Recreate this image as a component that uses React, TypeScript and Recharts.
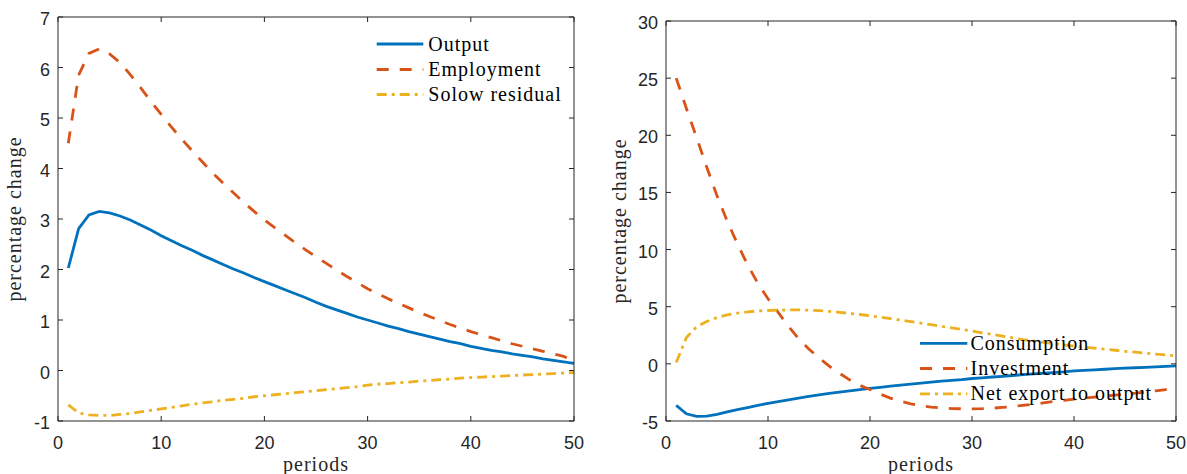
import { LineChart, Line, XAxis, YAxis, Legend } from 'recharts';

// periods 1..50
const periods = Array.from({ length: 50 }, (_, i) => i + 1);

// left panel
const output = [
  2.03, 2.81, 3.08, 3.15, 3.12, 3.06, 2.98, 2.88, 2.78, 2.67,
  2.57, 2.47, 2.38, 2.28, 2.19, 2.10, 2.01, 1.93, 1.84, 1.76,
  1.68, 1.60, 1.52, 1.44, 1.35, 1.27, 1.20, 1.13, 1.06, 1.00,
  0.94, 0.88, 0.83, 0.77, 0.72, 0.67, 0.62, 0.57, 0.53, 0.48,
  0.44, 0.40, 0.37, 0.33, 0.30, 0.27, 0.23, 0.20, 0.17, 0.14,
];
const employment = [
  4.50, 5.85, 6.28, 6.37, 6.27, 6.10, 5.86, 5.60, 5.33, 5.07,
  4.82, 4.58, 4.35, 4.13, 3.91, 3.71, 3.52, 3.33, 3.15, 2.98,
  2.83, 2.68, 2.53, 2.39, 2.25, 2.12, 1.99, 1.86, 1.74, 1.62,
  1.52, 1.42, 1.33, 1.24, 1.15, 1.07, 0.99, 0.91, 0.84, 0.77,
  0.71, 0.65, 0.59, 0.53, 0.48, 0.43, 0.38, 0.33, 0.28, 0.19,
];
const solow = [
  -0.68, -0.84, -0.88, -0.89, -0.89, -0.87, -0.85, -0.82, -0.79, -0.76,
  -0.73, -0.70, -0.67, -0.64, -0.62, -0.59, -0.57, -0.55, -0.52, -0.50,
  -0.48, -0.46, -0.44, -0.42, -0.40, -0.38, -0.36, -0.34, -0.32, -0.29,
  -0.27, -0.26, -0.24, -0.23, -0.21, -0.20, -0.18, -0.17, -0.15, -0.14,
  -0.13, -0.12, -0.11, -0.10, -0.09, -0.08, -0.07, -0.06, -0.05, -0.04,
];

// right panel
const consumption = [
  -3.64, -4.37, -4.60, -4.57, -4.42, -4.20, -4.00, -3.82, -3.63, -3.45,
  -3.30, -3.15, -3.00, -2.85, -2.71, -2.59, -2.47, -2.36, -2.25, -2.15,
  -2.05, -1.95, -1.86, -1.77, -1.68, -1.60, -1.52, -1.45, -1.38, -1.28,
  -1.22, -1.15, -1.09, -1.02, -0.95, -0.88, -0.82, -0.76, -0.70, -0.62,
  -0.57, -0.52, -0.47, -0.42, -0.38, -0.34, -0.30, -0.26, -0.22, -0.17,
];
const investment = [
  25.0, 22.35, 19.8, 17.2, 14.7, 12.5, 10.5, 8.66, 7.06, 5.7,
  4.5, 3.3, 2.2, 1.3, 0.52, -0.2, -0.82, -1.4, -1.88, -2.25,
  -2.65, -3.0, -3.27, -3.5, -3.67, -3.79, -3.86, -3.91, -3.93, -3.94,
  -3.92, -3.88, -3.81, -3.73, -3.63, -3.53, -3.42, -3.30, -3.19, -3.09,
  -3.0, -2.92, -2.83, -2.74, -2.65, -2.57, -2.47, -2.36, -2.25, -2.13,
];
const netExport = [
  0.12, 2.3, 3.25, 3.7, 4.05, 4.28, 4.43, 4.55, 4.63, 4.67,
  4.70, 4.72, 4.72, 4.70, 4.66, 4.59, 4.51, 4.42, 4.32, 4.20,
  4.08, 3.96, 3.83, 3.70, 3.57, 3.43, 3.29, 3.15, 3.01, 2.87,
  2.72, 2.57, 2.42, 2.27, 2.12, 2.00, 1.88, 1.77, 1.66, 1.55,
  1.46, 1.37, 1.28, 1.19, 1.10, 1.02, 0.94, 0.86, 0.78, 0.70,
];

const xTicks = [0, 10, 20, 30, 40, 50];
const leftYTicks = [-1, 0, 1, 2, 3, 4, 5, 6, 7];
const rightYTicks = [-5, 0, 5, 10, 15, 20, 25, 30];

const BLUE = '#0072BD';
const RED = '#D95319';
const YELLOW = '#EDB120';
const AXIS = '#262626';
const LW = 2.8;
const DASH = '12 11';
const DASHDOT = '10 5 3 5';
const SANS = '"Liberation Sans", Arial, sans-serif';
const SERIF = '"Liberation Serif", "Times New Roman", serif';

const leftData = periods.map((t, i) => ({ t, output: output[i], employment: employment[i], solow: solow[i] }));
const rightData = periods.map((t, i) => ({
  t,
  consumption: consumption[i],
  investment: investment[i],
  netExport: netExport[i],
}));

const BottomTick = (props: any) => {
  const { x, y, payload } = props;
  return (
    <g>
      <line x1={x} x2={x} y1={y} y2={y - 5} stroke={AXIS} />
      <text x={x} y={y + 27.5} textAnchor="middle" fill={AXIS} fontFamily={SANS} fontSize={18}>
        {payload.value}
      </text>
    </g>
  );
};

const TopTick = (props: any) => {
  const { x, y } = props;
  return <line x1={x} x2={x} y1={y} y2={y + 5} stroke={AXIS} />;
};

const LeftTick = (props: any) => {
  const { x, y, payload } = props;
  return (
    <g>
      <line x1={x} x2={x + 5} y1={y} y2={y} stroke={AXIS} />
      <text x={x - 8} y={y + 8} textAnchor="end" fill={AXIS} fontFamily={SANS} fontSize={18}>
        {payload.value}
      </text>
    </g>
  );
};

const RightTick = (props: any) => {
  const { x, y } = props;
  return <line x1={x} x2={x - 5} y1={y} y2={y} stroke={AXIS} />;
};

const xLabel = (props: any) => {
  const vb = props.viewBox;
  return (
    <text x={vb.x + vb.width / 2} y={471} textAnchor="middle" fill={AXIS} fontFamily={SERIF} fontSize={20} letterSpacing={1}>
      periods
    </text>
  );
};

const yLabel = (bx: number) => (props: any) => {
  const vb = props.viewBox;
  const cy = vb.y + vb.height / 2;
  return (
    <text
      x={bx}
      y={cy}
      transform={`rotate(-90 ${bx} ${cy})`}
      textAnchor="middle"
      fill={AXIS}
      fontFamily={SERIF}
      fontSize={20}
      letterSpacing={1}
    >
      percentage change
    </text>
  );
};

interface LegendItem {
  name: string;
  color: string;
  dash?: string;
}

const LegendBox = ({ items, width, x0, x1, tx, rows }: { items: LegendItem[]; width: number; x0: number; x1: number; tx: number; rows: number[] }) => (
  <svg width={width} height={90} style={{ display: 'block', overflow: 'visible' }}>
    {items.map((it, i) => (
      <g key={it.name}>
        <line x1={x0} x2={x1} y1={rows[i]} y2={rows[i]} stroke={it.color} strokeWidth={LW} strokeDasharray={it.dash} />
        <text x={tx} y={rows[i] + 6.6} fill="#000" fontFamily={SERIF} fontSize={20} letterSpacing={1}>
          {it.name}
        </text>
      </g>
    ))}
  </svg>
);

const leftItems: LegendItem[] = [
  { name: 'Output', color: BLUE },
  { name: 'Employment', color: RED, dash: DASH },
  { name: 'Solow residual', color: YELLOW, dash: DASHDOT },
];
const rightItems: LegendItem[] = [
  { name: 'Consumption', color: BLUE },
  { name: 'Investment', color: RED, dash: DASH },
  { name: 'Net export to output', color: YELLOW, dash: DASHDOT },
];

// box axes (top / right) with inward ticks, like the MATLAB frame
const frameAxes = (yDomain: number[], yTicks: number[], hiddenKey: string) => [
  <XAxis
    key="top"
    xAxisId="top"
    orientation="top"
    type="number"
    dataKey="t"
    domain={[0, 50]}
    allowDataOverflow
    ticks={xTicks}
    interval={0}
    height={1}
    tickSize={0}
    tickMargin={0}
    tick={TopTick}
    axisLine={{ stroke: AXIS }}
  />,
  <YAxis
    key="right"
    yAxisId="right"
    orientation="right"
    type="number"
    domain={yDomain}
    allowDataOverflow
    ticks={yTicks}
    interval={0}
    width={1}
    tickSize={0}
    tickMargin={0}
    tick={RightTick}
    axisLine={{ stroke: AXIS }}
  />,
  <Line
    key="frame"
    xAxisId="top"
    yAxisId="right"
    dataKey={hiddenKey}
    stroke="none"
    dot={false}
    activeDot={false}
    legendType="none"
    isAnimationActive={false}
  />,
];

export default function App() {
  return (
    <div style={{ position: 'absolute', left: 0, top: 0, width: 1187, height: 474, background: '#fff' }}>
      <div style={{ position: 'absolute', left: 0, top: 0 }}>
        <LineChart width={600} height={474} data={leftData} margin={{ top: 16, right: 25, left: 18, bottom: 0 }}>
          <XAxis
            type="number"
            dataKey="t"
            domain={[0, 50]}
            ticks={xTicks}
            interval={0}
            height={53}
            tickSize={0}
            tickMargin={0}
            tick={BottomTick}
            axisLine={{ stroke: AXIS }}
            label={xLabel}
          />
          <YAxis
            type="number"
            domain={[-1, 7]}
            ticks={leftYTicks}
            interval={0}
            width={40}
            tickSize={0}
            tickMargin={0}
            tick={LeftTick}
            axisLine={{ stroke: AXIS }}
            label={yLabel(21)}
          />
          {frameAxes([-1, 7], leftYTicks, 'output')}
          <Line dataKey="output" stroke={BLUE} strokeWidth={LW} dot={false} isAnimationActive={false} />
          <Line dataKey="employment" stroke={RED} strokeWidth={LW} strokeDasharray={DASH} dot={false} isAnimationActive={false} />
          <Line dataKey="solow" stroke={YELLOW} strokeWidth={LW} strokeDasharray={DASHDOT} dot={false} isAnimationActive={false} />
          <Legend
            layout="horizontal"
            verticalAlign="middle"
            align="center"
            wrapperStyle={{ left: 370, top: 28, width: 210, height: 90 }}
            content={() => <LegendBox items={leftItems} width={210} x0={6.7} x1={53.3} tx={58.3} rows={[16, 41.5, 66.5]} />}
          />
        </LineChart>
      </div>
      <div style={{ position: 'absolute', left: 600, top: 0 }}>
        <LineChart width={587} height={474} data={rightData} margin={{ top: 20, right: 10, left: 26, bottom: 0 }}>
          <XAxis
            type="number"
            dataKey="t"
            domain={[0, 50]}
            ticks={xTicks}
            interval={0}
            height={53}
            tickSize={0}
            tickMargin={0}
            tick={BottomTick}
            axisLine={{ stroke: AXIS }}
            label={xLabel}
          />
          <YAxis
            type="number"
            domain={[-5, 30]}
            ticks={rightYTicks}
            interval={0}
            width={40}
            tickSize={0}
            tickMargin={0}
            tick={LeftTick}
            axisLine={{ stroke: AXIS }}
            label={yLabel(26)}
          />
          {frameAxes([-5, 30], rightYTicks, 'consumption')}
          <Line dataKey="consumption" stroke={BLUE} strokeWidth={LW} dot={false} isAnimationActive={false} />
          <Line dataKey="investment" stroke={RED} strokeWidth={LW} strokeDasharray={DASH} dot={false} isAnimationActive={false} />
          <Line dataKey="netExport" stroke={YELLOW} strokeWidth={LW} strokeDasharray={DASHDOT} dot={false} isAnimationActive={false} />
          <Legend
            layout="horizontal"
            verticalAlign="middle"
            align="center"
            wrapperStyle={{ left: 310, top: 325, width: 270, height: 90 }}
            content={() => <LegendBox items={rightItems} width={270} x0={10} x1={57.3} tx={60.5} rows={[18.3, 43.5, 68.8]} />}
          />
        </LineChart>
      </div>
    </div>
  );
}
